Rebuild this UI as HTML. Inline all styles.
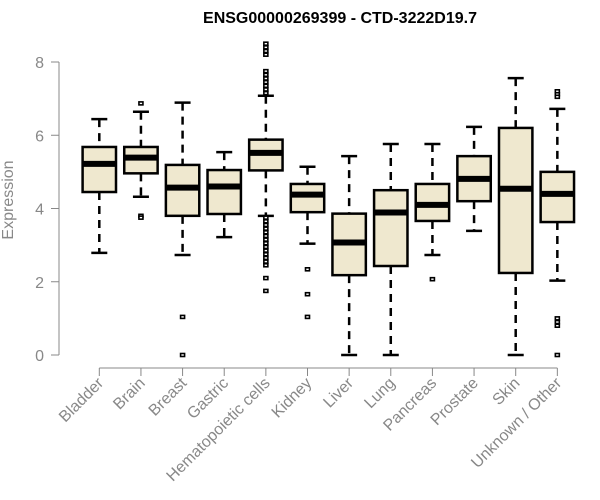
<!DOCTYPE html>
<html><head><meta charset="utf-8"><style>
body{margin:0;background:#fff}
svg{display:block;font-family:"Liberation Sans",sans-serif}
</style></head><body>
<svg id="chart" width="600" height="500" viewBox="0 0 600 500"></svg>
<script>
const categories=["Bladder","Brain","Breast","Gastric","Hematopoietic cells","Kidney","Liver","Lung","Pancreas","Prostate","Skin","Unknown / Other"];
const whiskerLow=[2.79,4.32,2.73,3.22,3.80,3.04,0,0,2.73,3.39,0,2.03];
const q1=[4.45,4.96,3.80,3.85,5.04,3.90,2.18,2.43,3.66,4.20,2.24,3.63];
const median=[5.22,5.39,4.57,4.60,5.52,4.38,3.07,3.89,4.10,4.81,4.54,4.40];
const q3=[5.68,5.68,5.19,5.05,5.88,4.67,3.86,4.50,4.67,5.43,6.20,5.00];
const whiskerHigh=[6.44,6.64,6.89,5.54,7.08,5.14,5.43,5.76,5.76,6.23,7.56,6.72];
const outliers=[[],[6.87,3.8,3.75],[1.04,0],[],
[7.15,7.25,7.35,7.45,7.55,7.65,7.75,8.2,8.3,8.4,8.5,3.75,3.65,3.55,3.45,3.35,3.25,3.15,3.05,2.95,2.85,2.75,2.65,2.55,2.45,2.1,1.75],
[2.34,1.66,1.04],[],[],[2.07],[],[],[7.2,7.12,7.05,1.0,0.9,0.8,0]];
const yTicks=[0,2,4,6,8];
const svg=document.getElementById('chart');
const NS='http://www.w3.org/2000/svg';
const y=v=>355-v*36.625;
const x=i=>99.3+i*41.64;
const hw=16.7;
function mk(tag,attrs,parent){const e=document.createElementNS(NS,tag);for(const k in attrs)e.setAttribute(k,attrs[k]);(parent||svg).appendChild(e);return e;}
const t=mk('text',{x:340,y:23,'text-anchor':'middle','font-size':'16','font-weight':'bold',fill:'#000'});
t.textContent='ENSG00000269399 - CTD-3222D19.7';


const yt=mk('text',{x:0,y:0,transform:'translate(13,200) rotate(-90)','text-anchor':'middle','font-size':'16',fill:'#888'});
yt.textContent='Expression';


const ya=mk('line',{x1:59,x2:59,y1:y(8),y2:y(0),stroke:'#888','stroke-width':1});


yTicks.forEach(v=>{
  mk('line',{x1:51,x2:59,y1:y(v),y2:y(v),stroke:'#888'});
  const l=mk('text',{x:44,y:y(v)+6,'text-anchor':'end','font-size':'16',fill:'#888'});
  l.textContent=v;
  
  
});
const xa=mk('line',{x1:x(0),x2:x(categories.length-1),y1:368,y2:368,stroke:'#888'});


categories.forEach((c,i)=>{
  const cx=x(i);
  mk('line',{x1:cx,x2:cx,y1:368,y2:376,stroke:'#888'});
  const l=mk('text',{x:0,y:0,transform:`translate(${cx+5},${384}) rotate(-45)`,'text-anchor':'end','font-size':'16',fill:'#888'});
  l.textContent=c;
  
  
  const g=mk('g',{});
  
  
  mk('line',{x1:cx,x2:cx,y1:y(whiskerHigh[i]),y2:y(q3[i]),stroke:'#000','stroke-width':2.5,'stroke-dasharray':'8,6'},g);
  mk('line',{x1:cx,x2:cx,y1:y(q1[i]),y2:y(whiskerLow[i]),stroke:'#000','stroke-width':2.5,'stroke-dasharray':'8,6'},g);
  mk('line',{x1:cx-8,x2:cx+8,y1:y(whiskerHigh[i]),y2:y(whiskerHigh[i]),stroke:'#000','stroke-width':2.5},g);
  mk('line',{x1:cx-8,x2:cx+8,y1:y(whiskerLow[i]),y2:y(whiskerLow[i]),stroke:'#000','stroke-width':2.5},g);
  mk('rect',{x:cx-hw,y:y(q3[i]),width:hw*2,height:y(q1[i])-y(q3[i]),fill:'#efe8cf',stroke:'#000','stroke-width':2.5},g);
  mk('line',{x1:cx-hw,x2:cx+hw,y1:y(median[i]),y2:y(median[i]),stroke:'#000','stroke-width':6},g);
  outliers[i].forEach(v=>{
    const o=mk('rect',{x:cx-2,y:y(v)-1.5,width:4,height:3,fill:'#fff',stroke:'#000','stroke-width':1.6},g);
    
    
  });
});
</script>
</body></html>
